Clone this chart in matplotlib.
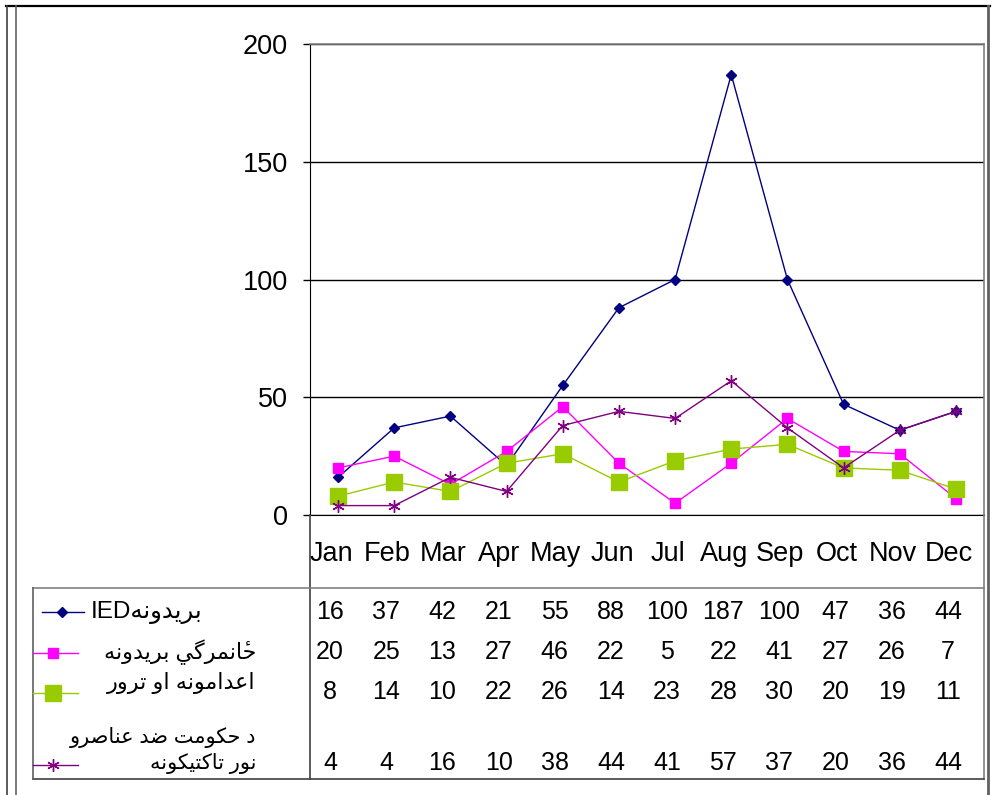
import matplotlib
matplotlib.use("Agg")
import matplotlib.pyplot as plt
from matplotlib.lines import Line2D
import matplotlib.transforms as mtransforms

plt.rcParams['font.family'] = ['Liberation Sans', 'DejaVu Sans']

# ---------------- data ----------------
months = ["Jan", "Feb", "Mar", "Apr", "May", "Jun", "Jul", "Aug", "Sep", "Oct", "Nov", "Dec"]
ied_attacks = [16, 37, 42, 21, 55, 88, 100, 187, 100, 47, 36, 44]
suicide_attacks = [20, 25, 13, 27, 46, 22, 5, 22, 41, 27, 26, 7]
executions_terror = [8, 14, 10, 22, 26, 14, 23, 28, 30, 20, 19, 11]
other_tactics = [4, 4, 16, 10, 38, 44, 41, 57, 37, 20, 36, 44]
yticks = [0, 50, 100, 150, 200]

# ---------------- simple Arabic-script shaping (presentation forms, visual order) ----------------
FORMS = {
    'ا': ('\uFE8D', '\uFE8E', None, None),
    'ب': ('\uFE8F', '\uFE90', '\uFE91', '\uFE92'),
    'ت': ('\uFE95', '\uFE96', '\uFE97', '\uFE98'),
    'ح': ('\uFEA1', '\uFEA2', '\uFEA3', '\uFEA4'),
    'ځ': ('\u0681', '\u0654\uFEA2', '\u0654\uFEA3', '\u0654\uFEA4'),
    'د': ('\uFEA9', '\uFEAA', None, None),
    'ر': ('\uFEAD', '\uFEAE', None, None),
    'ص': ('\uFEB9', '\uFEBA', '\uFEBB', '\uFEBC'),
    'ض': ('\uFEBD', '\uFEBE', '\uFEBF', '\uFEC0'),
    'ع': ('\uFEC9', '\uFECA', '\uFECB', '\uFECC'),
    'م': ('\uFEE1', '\uFEE2', '\uFEE3', '\uFEE4'),
    'ن': ('\uFEE5', '\uFEE6', '\uFEE7', '\uFEE8'),
    'ه': ('\uFEE9', '\uFEEA', '\uFEEB', '\uFEEC'),
    'و': ('\uFEED', '\uFEEE', None, None),
    'ي': ('\uFEF1', '\uFEF2', '\uFEF3', '\uFEF4'),
    'ک': ('\uFB8E', '\uFB8F', '\uFB90', '\uFB91'),
    'گ': ('\uFB92', '\uFB93', '\uFB94', '\uFB95'),
}


def shape(text):
    out = []
    n = len(text)
    for i, c in enumerate(text):
        if c not in FORMS:
            out.append(c)
            continue
        iso, fin, ini, med = FORMS[c]
        prev = text[i - 1] if i > 0 else None
        nxt = text[i + 1] if i < n - 1 else None
        joins_prev = prev in FORMS and FORMS[prev][2] is not None
        joins_next = nxt in FORMS and ini is not None
        if joins_prev and joins_next:
            g = med
        elif joins_prev:
            g = fin
        elif joins_next:
            g = ini
        else:
            g = iso
        out.append(g)
    # reverse glyph clusters into visual (left-to-right) order
    return ''.join(reversed(out))


lab_ied = "IED" + shape("بريدونه")
lab_suicide = shape("ځانمرگي بريدونه")
lab_exec = shape("اعدامونه او ترور")
lab_other1 = shape("د حکومت ضد عناصرو")
lab_other2 = shape("نور تاکتيکونه")

# ---------------- figure ----------------
W, H = 992, 795
fig = plt.figure(figsize=(W / 100, H / 100), dpi=100)
fig.patch.set_facecolor("white")


def fx(x):
    return x / W


def fy(y):
    return 1 - y / H


AX_L, AX_R, AX_T, AX_B = 310, 984, 44, 515
ax = fig.add_axes([fx(AX_L), fy(AX_B), (AX_R - AX_L) / W, (AX_B - AX_T) / H])

xs = [i + 0.5 for i in range(len(months))]
series = [
    (ied_attacks, dict(color="#000080", marker="D", markersize=5, lw=1.0)),
    (suicide_attacks, dict(color="#FF00FF", marker="s", markersize=6.5, lw=1.0)),
    (executions_terror, dict(color="#99CC00", marker="s", markersize=11, lw=1.0)),
    (other_tactics, dict(color="#800080", marker=(6, 2, 0), markersize=9, lw=1.0, mew=1.0)),
]
for vals, st in series:
    ax.plot(xs, vals, clip_on=False, **st)

ax.set_xlim(0, len(months))
ax.set_ylim(0, 200)
ax.set_yticks(yticks)
ax.set_yticklabels([str(v) for v in yticks], fontsize=19.5)
ax.tick_params(axis="y", direction="out", length=5, width=1, pad=11, color="black")
ax.set_xticks(xs)
ax.set_xticklabels(months, fontsize=19.5)
ax.tick_params(axis="x", length=0, pad=19)
# labels in the reference sit slightly left of the category centres
shift = mtransforms.ScaledTranslation(-7 / 100, 0, fig.dpi_scale_trans)
for lbl in ax.get_xticklabels():
    lbl.set_transform(lbl.get_transform() + shift)
ax.yaxis.grid(True, color="black", lw=1)
ax.set_axisbelow(True)
for s in ["top", "right"]:
    ax.spines[s].set_color("#808080")
    ax.spines[s].set_linewidth(1.2)
ax.spines["left"].set_color("black")
ax.spines["bottom"].set_color("black")


def fline(x0, y0, x1, y1, color="#808080", lw=1.2):
    fig.add_artist(Line2D([fx(x0), fx(x1)], [fy(y0), fy(y1)], color=color, lw=lw,
                          transform=fig.transFigure))


# outer chart frame
fline(6, 6, 990, 6, color="black", lw=1.6)
fline(7, 6, 7, 800, color="#404040", lw=1.2)
fline(16, 6, 16, 800, color="#606060", lw=1.2)
fline(988, 6, 988, 800, color="#606060", lw=2.0)

# data table grid
fline(AX_L, AX_B, AX_L, 779, color="#404040", lw=1.2)
fline(AX_R, AX_B, AX_R, 779, color="#808080", lw=1.2)
fline(33, 588, AX_R, 588, color="#808080", lw=1.2)
fline(33, 779, AX_R, 779, color="#404040", lw=1.2)
fline(33, 588, 33, 779, color="#606060", lw=1.2)

# table values
row_y = [612, 652, 692, 763]
rows = [ied_attacks, suicide_attacks, executions_terror, other_tactics]
for ry, vals in zip(row_y, rows):
    for x, v in zip(xs, vals):
        xpix = ax.transData.transform((x, 0))[0] - 8
        fig.text(xpix / W, fy(ry), str(v), ha="center", va="center", fontsize=18)

# legend keys in the table
keys = [
    (42, 84, 62, 612, series[0][1]),
    (33, 78, 53, 653, series[1][1]),
    (33, 78, 53, 693, series[2][1]),
    (33, 78, 53, 765, series[3][1]),
]
for x0, x1, xm, yk, st in keys:
    fline(x0, yk, x1, yk, color=st["color"], lw=1.0)
    kw = {k: v for k, v in st.items() if k not in ("lw",)}
    fig.add_artist(Line2D([fx(xm)], [fy(yk)], linestyle="none", transform=fig.transFigure, **kw))

fig.text(fx(91), fy(612), lab_ied, ha="left", va="center", fontsize=17.5)
fig.text(fx(256), fy(652), lab_suicide, ha="right", va="center", fontsize=16)
fig.text(fx(256), fy(683), lab_exec, ha="right", va="center", fontsize=16)
fig.text(fx(256), fy(737), lab_other1, ha="right", va="center", fontsize=15)
fig.text(fx(256), fy(764), lab_other2, ha="right", va="center", fontsize=15)

fig.savefig("out.png", dpi=100, facecolor="white")
